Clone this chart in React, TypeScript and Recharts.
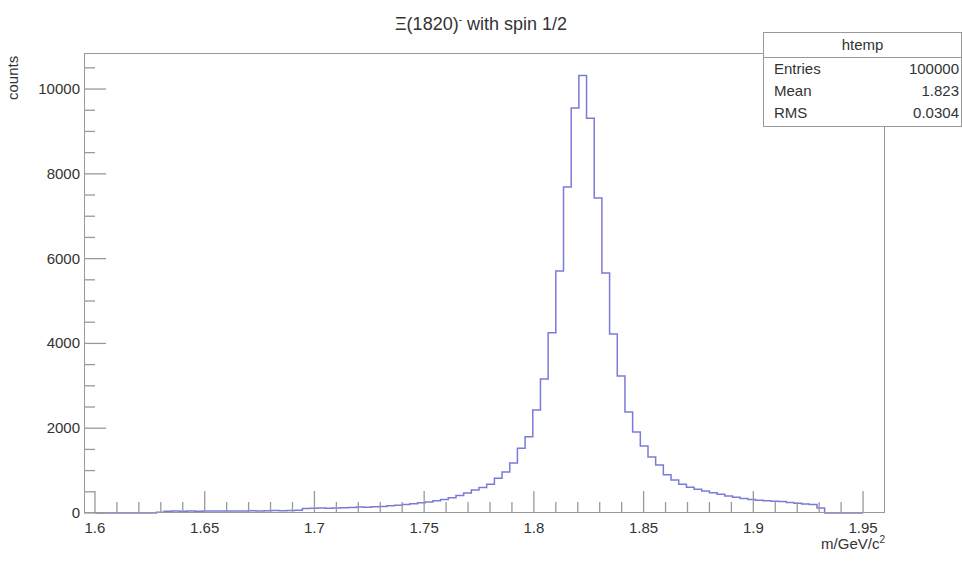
import { LineChart, Line, XAxis, YAxis } from "recharts";

const binStart = 1.6;
const binWidth = 0.0035;
const counts = [
  0, 0, 0, 0, 0, 0, 0, 0, 20,
  40, 45, 40, 50, 40, 45, 50, 45, 50, 50, 45, 55, 50, 55, 60, 55, 60, 65,
  105, 110, 115, 110, 120, 125, 130,
  140, 135, 150, 155,
  170, 185, 200,
  220, 240, 260,
  290, 320,
  360, 410, 470, 540,
  600, 680, 820, 970, 1180, 1530, 1800, 2430, 3160, 4250, 5710, 7690, 9550,
  10320,
  9310, 7430, 5660, 4220, 3230, 2380, 1910, 1580, 1320, 1130, 900, 780, 680, 610,
  560, 520, 480, 440, 400, 370, 340, 320, 300, 290, 280, 270, 250, 230, 210, 200, 120,
  0, 0, 0, 0, 0,
];
const xTicks = [
  1.6, 1.61, 1.62, 1.63, 1.64, 1.65, 1.66, 1.67, 1.68, 1.69, 1.7, 1.71, 1.72, 1.73,
  1.74, 1.75, 1.76, 1.77, 1.78, 1.79, 1.8, 1.81, 1.82, 1.83, 1.84, 1.85, 1.86, 1.87,
  1.88, 1.89, 1.9, 1.91, 1.92, 1.93, 1.94, 1.95,
];
const xLabels = ["1.6", "1.65", "1.7", "1.75", "1.8", "1.85", "1.9", "1.95"];
const yTicks = [
  0, 500, 1000, 1500, 2000, 2500, 3000, 3500, 4000, 4500, 5000, 5500, 6000, 6500,
  7000, 7500, 8000, 8500, 9000, 9500, 10000, 10500,
];
const yLabels = ["0", "2000", "4000", "6000", "8000", "10000"];
const stats = [
  ["Entries", "100000"],
  ["Mean", "1.823"],
  ["RMS", "0.0304"],
];

const data = counts.map((c, i) => ({ x: binStart + i * binWidth, y: c }));
data.push({ x: 1.95, y: 0 });

const FONT = "'Liberation Sans', Arial, sans-serif";
const AXIS = "#999";
const TEXT = "#333";
const PLOT_TOP = 53;
const PLOT_BOTTOM = 513;
const PLOT_LEFT = 84;

function XTick(props: any) {
  const { x, payload } = props;
  const label = xLabels.find((l) => Math.abs(parseFloat(l) - payload.value) < 1e-6);
  const len = label ? 22 : 11;
  return (
    <g>
      <line x1={x} x2={x} y1={PLOT_BOTTOM} y2={PLOT_BOTTOM - len} stroke={AXIS} strokeWidth={1.3} />
      {label && (
        <text x={x} y={PLOT_BOTTOM + 20} textAnchor="middle" fontSize={15} fill={TEXT} fontFamily={FONT}>
          {label}
        </text>
      )}
    </g>
  );
}

function YTick(props: any) {
  const { y, payload } = props;
  const label = yLabels.find((l) => Number(l) === payload.value);
  const len = label ? 22 : 11;
  return (
    <g>
      <line x1={PLOT_LEFT} x2={PLOT_LEFT + len} y1={y} y2={y} stroke={AXIS} strokeWidth={1.3} />
      {label && (
        <text x={PLOT_LEFT - 4} y={y + 5} textAnchor="end" fontSize={15} fill={TEXT} fontFamily={FONT}>
          {label}
        </text>
      )}
    </g>
  );
}

export default function App() {
  return (
    <div style={{ position: "absolute", left: 0, top: 0, width: 962, height: 561, background: "#fff", fontFamily: FONT, color: TEXT }}>
      <LineChart width={962} height={561} data={data} margin={{ top: PLOT_TOP, right: 77, bottom: 18, left: 8 }}>
        <XAxis
          type="number"
          dataKey="x"
          domain={[1.595, 1.96]}
          ticks={xTicks}
          tick={<XTick />}
          tickLine={false}
          axisLine={false}
          height={30}
          interval={0}
        />
        <YAxis
          type="number"
          domain={[0, 10850]}
          ticks={yTicks}
          tick={<YTick />}
          tickLine={false}
          axisLine={false}
          width={76}
          interval={0}
        />
        <Line
          type="stepAfter"
          dataKey="y"
          stroke="#7b7bd6"
          strokeWidth={1.5}
          dot={false}
          isAnimationActive={false}
        />
      </LineChart>
      <div style={{ position: "absolute", left: PLOT_LEFT, top: PLOT_TOP, width: 885 - PLOT_LEFT, height: PLOT_BOTTOM - PLOT_TOP, border: `1.5px solid ${AXIS}`, boxSizing: "border-box", pointerEvents: "none" }} />
      <div style={{ position: "absolute", left: 0, top: 14, width: 962, textAlign: "center", fontSize: 18 }}>
        Ξ(1820)<sup style={{ fontSize: 10 }}>-</sup> with spin 1/2
      </div>
      <div style={{ position: "absolute", left: 4, top: 100, fontSize: 15, transform: "rotate(-90deg)", transformOrigin: "left top" }}>
        counts
      </div>
      <div style={{ position: "absolute", right: 962 - 885, top: 534, fontSize: 15 }}>
        m/GeV/c<sup style={{ fontSize: 10 }}>2</sup>
      </div>
      <div style={{ position: "absolute", left: 763, top: 32, width: 199, height: 95, border: `1.5px solid ${AXIS}`, boxSizing: "border-box", background: "#fff", fontSize: 15 }}>
        <div style={{ textAlign: "center", height: 24, lineHeight: "24px", borderBottom: `1.5px solid ${AXIS}` }}>htemp</div>
        {stats.map(([k, v]) => (
          <div key={k} style={{ display: "flex", justifyContent: "space-between", padding: "0 2px 0 10px", height: 22, lineHeight: "22px" }}>
            <span>{k}</span>
            <span>{v}</span>
          </div>
        ))}
      </div>
    </div>
  );
}
